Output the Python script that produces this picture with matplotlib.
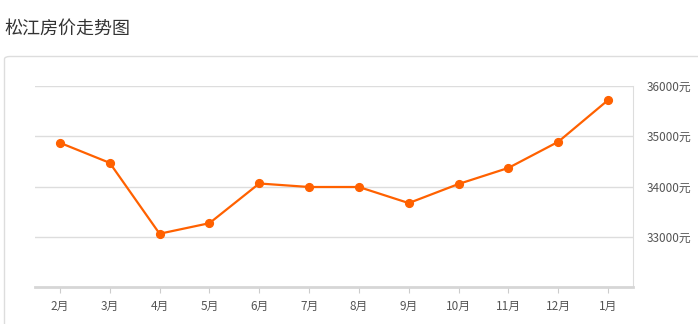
#松江房价走势 - monthly average price line chart
import matplotlib.pyplot as plt
from matplotlib.patches import FancyBboxPatch

plt.rcParams['font.family'] = ['Noto Sans CJK SC', 'DejaVu Sans']

# months and average price (元)
months = ['2月', '3月', '4月', '5月', '6月', '7月', '8月', '9月', '10月', '11月', '12月', '1月']
prices = [34870, 34470, 33060, 33270, 34060, 33990, 33990, 33670, 34050, 34370, 34890, 35720]
yticks = [33000, 34000, 35000, 36000]

W, H = 698, 324
fig = plt.figure(figsize=(W / 100, H / 100), dpi=100)

# title and the rounded panel behind the chart
fig.text(4 / W, 1 - 29 / H, '松江房价走势图', fontsize=13, color='#333333', va='center', ha='left')
box = FancyBboxPatch((4.5 / W, -20 / H), 720 / W, (H - 56.5 + 20) / H,
                     boxstyle='round,pad=0,rounding_size=0.008',
                     transform=fig.transFigure, facecolor='white', edgecolor='#dddddd',
                     linewidth=1, zorder=-5)
fig.patches.append(box)

ax = fig.add_axes([35 / W, (H - 287) / H, (633 - 35) / W, (287 - 86) / H])
ax.set_facecolor('none')

x = range(len(months))
ax.plot(x, prices, color='#ff6100', linewidth=1.6, marker='o', markersize=5.6, zorder=3)

ax.set_xlim(-0.5, len(months) - 0.5)
ax.set_ylim(32000, 36000)
ax.set_xticks(list(x))
ax.set_xticklabels(months)
ax.set_yticks(yticks)
ax.set_yticklabels([f'{v}元' for v in yticks])
ax.yaxis.tick_right()
ax.grid(axis='y', color='#dddddd', linewidth=1)
ax.set_axisbelow(True)

for s in ['left', 'top']:
    ax.spines[s].set_visible(False)
ax.spines['right'].set_color('#dddddd')
ax.spines['bottom'].set_color('#d6d6d6')
ax.spines['bottom'].set_linewidth(2)

ax.tick_params(axis='x', length=4, color='#cccccc', labelsize=8.5, labelcolor='#555555', pad=5)
ax.tick_params(axis='y', length=0, labelsize=8.5, labelcolor='#555555', pad=10)

fig.savefig('out.png', dpi=100)
